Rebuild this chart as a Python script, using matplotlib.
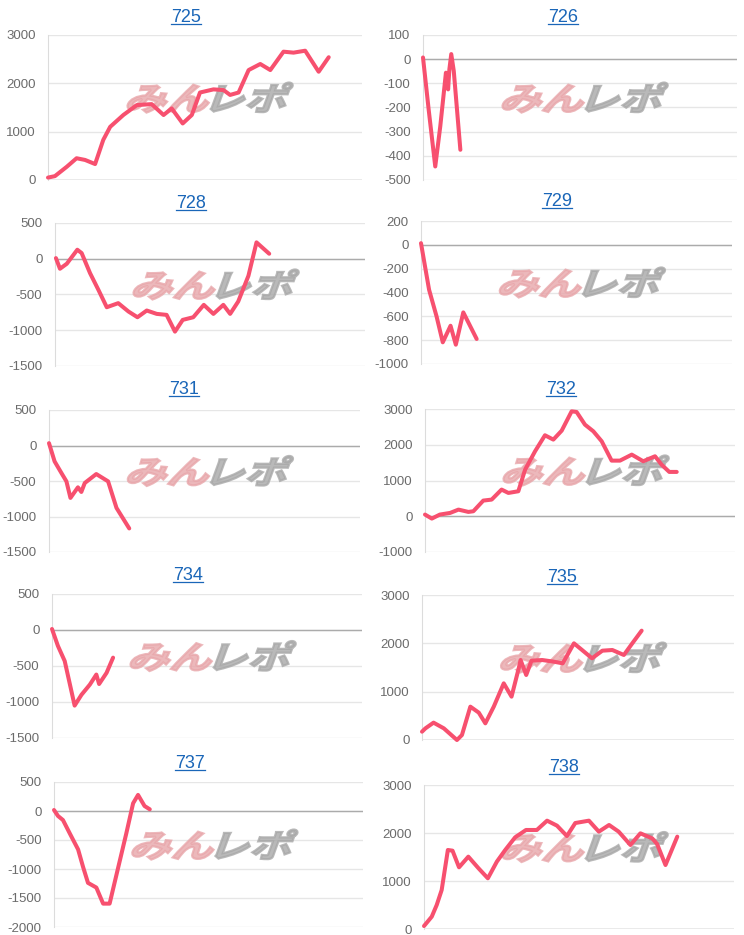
import matplotlib
matplotlib.use('Agg')
import matplotlib.pyplot as plt
from matplotlib.lines import Line2D
from matplotlib.textpath import TextPath
from matplotlib.patches import PathPatch
from matplotlib.font_manager import FontProperties
from matplotlib.transforms import Affine2D, ScaledTranslation

plt.rcParams['font.family'] = ['Liberation Sans', 'DejaVu Sans']
plt.rcParams['axes.unicode_minus'] = False

# machine numbers shown as chart titles
titles = ['725', '726', '728', '729', '731', '732', '734', '735', '737', '738']

# x = progress along the day (0-100), y = coin difference
x725 = [0, 2.2, 6, 9.1, 11.8, 15, 17.6, 19.8, 24, 28.3, 33, 36.8, 39.4, 42.9, 45.8, 48.4, 52.7,
        55.9, 58, 60.7, 63.9, 67.6, 70.8, 75, 78.2, 81.9, 86.2, 89.4]
y725 = [50, 80, 275, 450, 415, 330, 830, 1100, 1345, 1550, 1570, 1345, 1480, 1170, 1345, 1810, 1875,
        1860, 1760, 1810, 2275, 2400, 2275, 2655, 2635, 2675, 2240, 2540]

x726 = [0, 1.8, 3.9, 5.5, 7.3, 8, 8.4, 9, 9.8, 11.9]
y726 = [7, -208, -444, -278, -56, -125, -42, 21, -49, -375]

x728 = [0.3, 1.6, 3.8, 7.2, 8.6, 11.3, 14, 16.7, 20.4, 23.7, 26.6, 29.6, 32.8, 36, 38.7, 41.2, 44.6,
        48, 51.1, 54.3, 56.5, 59.1, 62.4, 65, 69.1]
y728 = [9, -140, -70, 126, 79, -201, -435, -678, -621, -738, -818, -724, -771, -785, -1019, -855, -818,
        -645, -771, -645, -771, -598, -238, 229, 70]

x729 = [0, 1.3, 2.6, 5, 7, 9.5, 11.2, 13.6, 17.9]
y729 = [14, -182, -377, -600, -818, -679, -838, -567, -790]

x731 = [0, 1.8, 4, 5.6, 6.9, 9.3, 10.4, 11.5, 15.2, 19, 21.7, 25.8]
y731 = [33, -224, -388, -505, -738, -589, -654, -528, -402, -505, -879, -1168]

x732 = [0, 2.2, 4.8, 8.1, 10.8, 14, 15.6, 18.8, 21.5, 24.7, 26.9, 30.1, 32.3, 35.5, 38.7, 41.4, 44.1,
        47.3, 48.9, 51.6, 54.3, 57, 60.2, 62.9, 66.7, 70.4, 74.2, 76.3, 78.8, 81.2]
y732 = [47, -65, 47, 93, 186, 121, 140, 438, 466, 746, 652, 699, 1305, 1817, 2265, 2144, 2395,
        2935, 2917, 2563, 2376, 2097, 1556, 1556, 1724, 1538, 1678, 1444, 1240, 1240]

x734 = [0, 1.9, 4.1, 7.3, 9.5, 12.2, 14.3, 15.2, 17.6, 19.7]
y734 = [14, -220, -431, -1050, -900, -759, -619, -750, -595, -384]

x735 = [0, 1.1, 3.7, 7, 11.2, 12.8, 15.5, 18.2, 20.3, 23, 26.2, 28.7, 31, 31.6, 33.4, 35.1, 38.5,
        42.2, 45.1, 48.7, 51.3, 54.5, 57.8, 61, 64.7, 67.4, 70.4]
y735 = [172, 241, 359, 241, 0, 103, 690, 566, 345, 690, 1172, 897, 1483, 1655, 1345, 1641, 1655,
        1621, 1586, 2000, 1862, 1690, 1848, 1862, 1759, 2000, 2262]

x737 = [0, 1.3, 2.9, 5.1, 7.8, 9.4, 11, 13.7, 15.9, 18, 20.7, 23.4, 25.6, 27.2, 29.3, 31]
y737 = [17, -86, -156, -386, -663, -963, -1239, -1320, -1597, -1597, -991, -386, 133, 277, 86, 29]

x738 = [0, 2.5, 4.1, 5.7, 7.7, 9.2, 11.3, 14.3, 17.6, 20.6, 23.5, 26.2, 29.4, 32.9, 36.4, 39.7, 42.9,
        46.1, 48.8, 53.2, 56.4, 59.7, 62.8, 66.6, 69.8, 73.6, 75.2, 77.9, 81.7]
y738 = [62, 257, 500, 812, 1646, 1632, 1285, 1507, 1264, 1056, 1403, 1646, 1910, 2063, 2063, 2257, 2153,
        1937, 2208, 2257, 2028, 2167, 2028, 1750, 1993, 1889, 1771, 1333, 1924]

xs = [x725, x726, x728, x729, x731, x732, x734, x735, x737, x738]
ys = [y725, y726, y728, y729, y731, y732, y734, y735, y737, y738]

# y axis range and tick step per chart
ymins = [0, -500, -1500, -1000, -1500, -1000, -1500, 0, -2000, 0]
ymaxs = [3000, 100, 500, 200, 500, 3000, 500, 3000, 500, 3000]
ysteps = [1000, 100, 500, 200, 500, 1000, 500, 1000, 500, 1000]

W, H = 744, 935
# plot boxes in pixels: left, top, right, bottom
boxes = [(48, 35, 362, 180), (423, 35, 737, 180),
         (55, 223, 365, 366), (421, 221, 732, 364),
         (49, 410, 360, 552), (425, 409, 735, 552),
         (52, 594, 362, 738), (422, 595, 734, 740),
         (54, 782, 363, 927), (424, 785, 734, 929)]
# title centre x and baseline y in pixels
title_pos = [(186, 22), (563, 22), (191, 208), (557, 206), (184, 394),
             (561, 394), (188, 580), (562, 582), (190, 768), (564, 772)]

line_color = '#f7506f'
fig = plt.figure(figsize=(W / 100, H / 100), dpi=100)

# watermark glyphs
fp = FontProperties(family='Noto Sans CJK JP', weight='bold')
pa = TextPath((0, 0), 'みん', size=40, prop=fp)
pb = TextPath((0, 0), 'レポ', size=40, prop=fp)
ea, eb = pa.get_extents(), pb.get_extents()
gap = 4
wm_w = (ea.x1 - ea.x0) + gap + (eb.x1 - eb.x0)
wm_y0 = min(ea.y0, eb.y0)
wm_h = max(ea.y1, eb.y1) - wm_y0
sx, sy = 158 / wm_w, 30 / wm_h

for i, (l, t, r, b) in enumerate(boxes):
    ax = fig.add_axes([l / W, 1 - b / H, (r - l) / W, (b - t) / H])
    ax.set_xlim(0, 100)
    ax.set_ylim(ymins[i], ymaxs[i])
    ax.set_yticks(range(ymins[i], ymaxs[i] + 1, ysteps[i]))
    ax.set_xticks([])
    for s in ['top', 'right', 'bottom']:
        ax.spines[s].set_visible(False)
    ax.spines['left'].set_color('#dcdcdc')
    ax.set_axisbelow(True)
    ax.grid(axis='y', color='#e6e6e6', lw=1)
    ax.axhline(0, color='#ababab', lw=1, zorder=1.5)
    ax.tick_params(axis='y', length=0, pad=9, labelsize=9.5, labelcolor='#6b6b6b')

    off = ScaledTranslation(0.245, 0.465, ax.transAxes)
    ta = Affine2D().translate(-ea.x0, -wm_y0).scale(sx, sy).skew_deg(20, 0) + off
    tb = Affine2D().translate(-eb.x0 + (ea.x1 - ea.x0) + gap, -wm_y0).scale(sx, sy).skew_deg(20, 0) + off
    ax.add_patch(PathPatch(pa, transform=ta, facecolor='#e8a6aa', edgecolor='#e8a6aa',
                           lw=1.6, joinstyle='miter', alpha=0.8, zorder=2))
    ax.add_patch(PathPatch(pb, transform=tb, facecolor='#a8a8a8', edgecolor='#a8a8a8',
                           lw=1.6, joinstyle='miter', alpha=0.8, zorder=2))

    ax.plot(xs[i], ys[i], color=line_color, lw=2.9, solid_joinstyle='round',
            solid_capstyle='round', zorder=3, clip_on=False)

title_texts = []
for i, (cx, by) in enumerate(title_pos):
    tt = fig.text(cx / W, 1 - by / H, titles[i], ha='center', va='baseline',
                  fontsize=13, color='#1a66b8')
    title_texts.append(tt)

fig.canvas.draw()
renderer = fig.canvas.get_renderer()
for tt, (cx, by) in zip(title_texts, title_pos):
    bb = tt.get_window_extent(renderer)
    uy = 1 - (by + 1.5) / H
    fig.add_artist(Line2D([bb.x0 / W, bb.x1 / W], [uy, uy], transform=fig.transFigure,
                          color='#1a66b8', lw=0.9))

fig.savefig('out.png', dpi=100)
